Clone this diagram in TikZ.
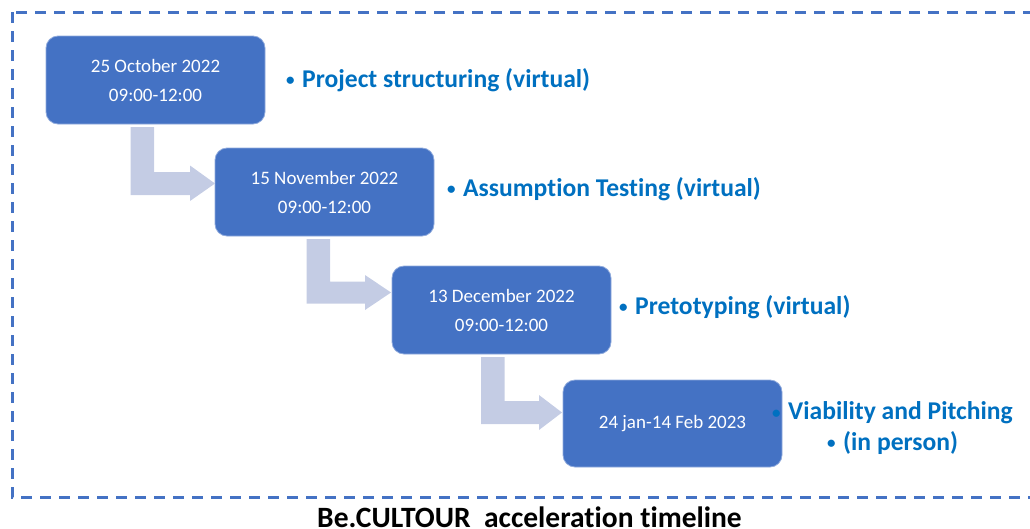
\documentclass[tikz,border=0pt]{standalone}
\usepackage{fontspec}
\setmainfont{Carlito}[Ligatures=NoCommon]
\definecolor{boxblue}{HTML}{4472C4}
\definecolor{arrowfill}{RGB}{196,204,228}
\definecolor{textblue}{HTML}{0070C0}
\newcommand{\bul}{\makebox[16pt][l]{\raisebox{1.5pt}{\fontsize{17}{17}\selectfont •}}}
\tikzset{
  datebox/.style={rounded corners=12pt, fill=boxblue, draw=boxblue!60!white, line width=0.8pt},
  datetext/.style={text=white, font=\fontsize{19}{29}\selectfont, align=center, inner sep=0pt},
  bullettext/.style={text=textblue, font=\fontsize{25.6}{31}\selectfont\bfseries, anchor=base west, inner sep=0pt},
  bentarrow/.style={fill=arrowfill, draw=none},
  frame/.style={draw=boxblue, line width=3pt, dash pattern=on 11pt off 8pt}
}
\begin{document}
\begin{tikzpicture}[x=1pt,y=-1pt]
\useasboundingbox (0,0) rectangle (1030,528);
\draw[frame] (12,12) rectangle (1045,497);

% date boxes
\draw[datebox] (46,36) rectangle (265,124);
\coordinate (b1) at (155.5,80);
\node[datetext] (t1) at (b1) {25 October 2022\\09:00-12:00};

\draw[datebox] (215,148) rectangle (434,236);
\coordinate (b2) at (324.5,192);
\node[datetext] (t2) at (b2) {15 November 2022\\09:00-12:00};

\draw[datebox] (392,266) rectangle (611,354);
\coordinate (b3) at (501.5,310);
\node[datetext] (t3) at (b3) {13 December 2022\\09:00-12:00};

\draw[datebox] (563,380) rectangle (782,467);
\coordinate (b4) at (672.5,423.5);
\node[datetext] (t4) at (b4) {24 jan-14 Feb 2023};

% bent arrows
\fill[bentarrow] (130.5,127) -- (154,127) -- (154,172) -- (190,172) -- (190,165.5)
  -- (215,183.5) -- (190,201) -- (190,195) -- (130.5,195) -- cycle;
\fill[bentarrow] (306.5,239) -- (330,239) -- (330,281.5) -- (365,281.5) -- (365,275)
  -- (391,292.5) -- (365,310) -- (365,303.5) -- (306.5,303.5) -- cycle;
\fill[bentarrow] (481,357) -- (504.5,357) -- (504.5,401) -- (539,401) -- (539,395)
  -- (562,412.5) -- (539,430) -- (539,424) -- (481,424) -- cycle;

% bullet labels
\node[bullettext] (l1) at (286,87) {\bul Project structuring (virtual)};
\node[bullettext] (l2) at (447,196) {\bul Assumption Testing (virtual)};
\node[bullettext] (l3) at (619,314) {\bul Pretotyping (virtual)};
\node[bullettext] (l4) at (772,419.5) {\bul Viability and Pitching};
\node[bullettext] (l5) at (827,450) {\bul (in person)};

% caption
\node[font=\fontsize{29.5}{34}\selectfont\bfseries, anchor=base, inner sep=0pt] (cap) at (529.5,527) {Be.CULTOUR\ \ acceleration timeline};
\end{tikzpicture}
\end{document}
